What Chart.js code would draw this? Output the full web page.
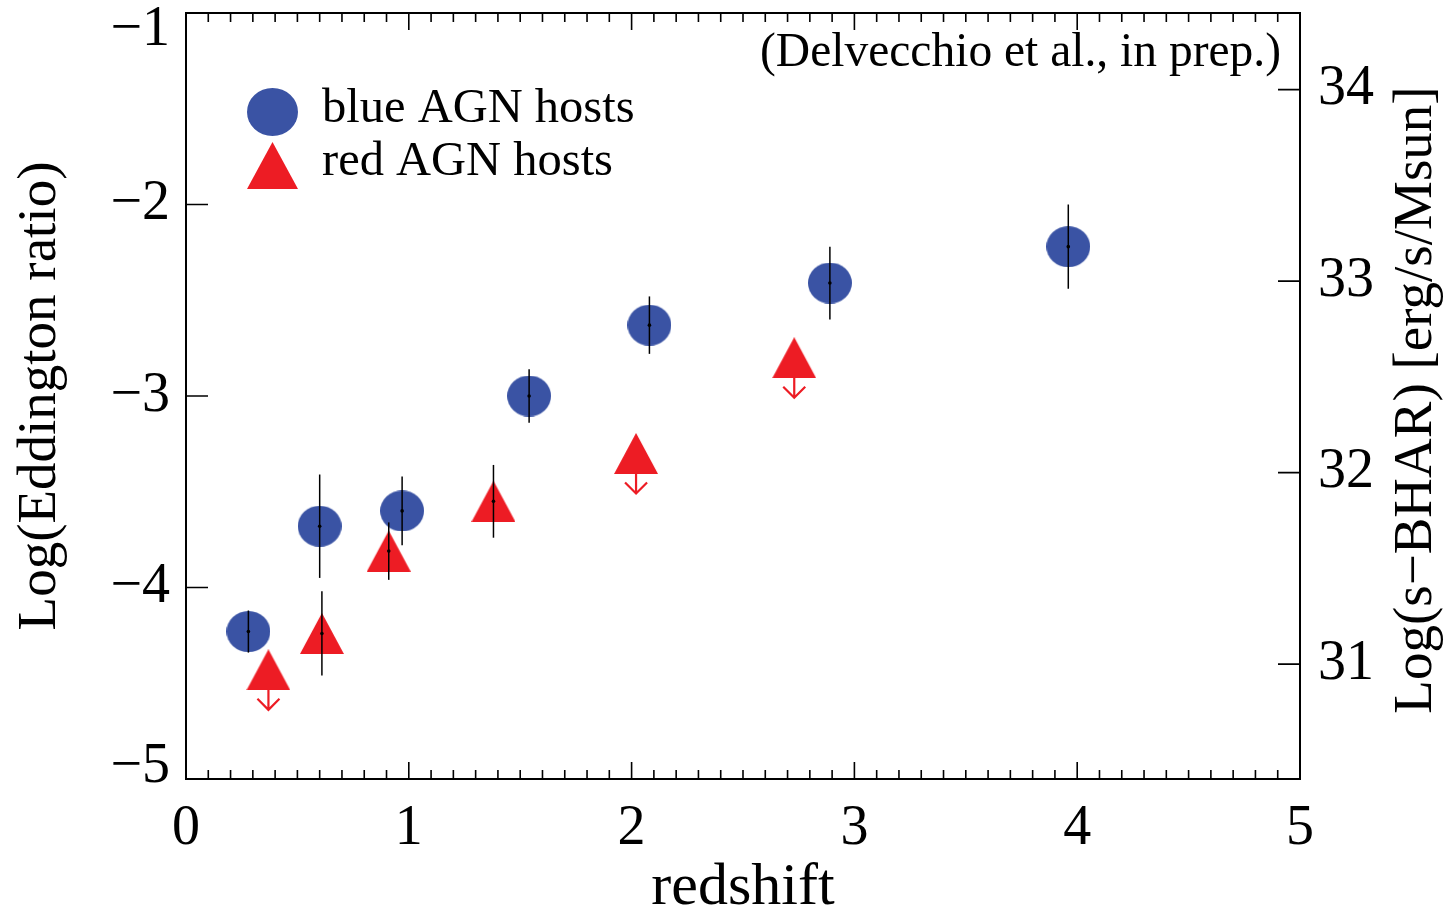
<!DOCTYPE html>
<html>
<head>
<meta charset="utf-8">
<script src="https://cdn.jsdelivr.net/npm/chart.js@4/dist/chart.umd.min.js"></script>
<style>
  html, body { margin: 0; padding: 0; background: #fff; }
  #wrap { width: 1449px; height: 915px; }
</style>
</head>
<body>
<div id="wrap"><canvas id="chart"></canvas></div>
<script>
// Datos
const blueZ = [0.28, 0.60, 0.97, 1.54, 2.08, 2.89, 3.96];
const blueLogEdd = [-4.23, -3.68, -3.60, -3.00, -2.63, -2.41, -2.22];
const blueErr = [0.11, 0.27, 0.18, 0.14, 0.15, 0.19, 0.22];

const redZ = [0.37, 0.61, 0.91, 1.38, 2.02, 2.73];
const redLogEdd = [-4.43, -4.24, -3.81, -3.55, -3.30, -2.80];
const redErr = [0, 0.22, 0.15, 0.19, 0, 0];
const redUpperLimit = [true, false, false, false, true, true];

const xTicks = [0, 1, 2, 3, 4, 5];
const leftTicks = [-5, -4, -3, -2, -1];
const rightTicks = [31, 32, 33, 34];
const sbharOffset = 35.4; // Log(s-BHAR) = Log(Edd) + offset

const BLUE = '#3a53a4', RED = '#ed1c24';
const SERIF = '"Liberation Serif", "Times New Roman", serif';

// Marcadores
function ellipseImg(w, h, color) {
  const c = document.createElement('canvas');
  c.width = w; c.height = h;
  const g = c.getContext('2d');
  g.fillStyle = color;
  g.beginPath();
  g.ellipse(w / 2, h / 2, w / 2, h / 2, 0, 0, Math.PI * 2);
  g.fill();
  return c;
}
function triangleImg(w, h, color) {
  const c = document.createElement('canvas');
  c.width = w; c.height = h;
  const g = c.getContext('2d');
  g.fillStyle = color;
  g.beginPath();
  g.moveTo(w / 2, 0);
  g.lineTo(w, h);
  g.lineTo(0, h);
  g.closePath();
  g.fill();
  return c;
}
const blueDot = ellipseImg(44, 41, BLUE);
const redTri = triangleImg(44, 41, RED);
const blueLeg = ellipseImg(51, 48, BLUE);
const redLeg = triangleImg(51, 47, RED);

const minus = v => String(v).replace('-', '\u2212');
const yMin = leftTicks[0], yMax = leftTicks[leftTicks.length - 1];

// Marco, ticks, barras de error, límites, leyenda y textos
const extras = {
  id: 'extras',
  afterDatasetsDraw(chart) {
    const { ctx, chartArea: a, scales: { x, y, y2 } } = chart;
    ctx.save();

    // barras de error
    ctx.strokeStyle = '#000';
    ctx.lineWidth = 1.5;
    const bars = (zs, vs, es) => zs.forEach((z, i) => {
      if (!es[i]) return;
      const px = x.getPixelForValue(z);
      ctx.beginPath();
      ctx.moveTo(px, y.getPixelForValue(vs[i] + es[i]));
      ctx.lineTo(px, y.getPixelForValue(vs[i] - es[i]));
      ctx.stroke();
    });
    bars(blueZ, blueLogEdd, blueErr);
    bars(redZ, redLogEdd, redErr);

    // puntos centrales
    ctx.fillStyle = '#000';
    const dots = (zs, vs, es) => zs.forEach((z, i) => {
      if (!es[i]) return;
      ctx.beginPath();
      ctx.arc(x.getPixelForValue(z), y.getPixelForValue(vs[i]), 1.8, 0, Math.PI * 2);
      ctx.fill();
    });
    dots(blueZ, blueLogEdd, blueErr);
    dots(redZ, redLogEdd, redErr);

    // flechas de límite superior
    ctx.strokeStyle = RED;
    ctx.lineWidth = 2.2;
    redZ.forEach((z, i) => {
      if (!redUpperLimit[i]) return;
      const px = x.getPixelForValue(z), py = y.getPixelForValue(redLogEdd[i]);
      ctx.beginPath();
      ctx.moveTo(px, py + 20);
      ctx.lineTo(px, py + 40);
      ctx.moveTo(px - 11, py + 29);
      ctx.lineTo(px, py + 40);
      ctx.lineTo(px + 11, py + 29);
      ctx.stroke();
    });

    // marco
    ctx.strokeStyle = '#000';
    ctx.lineWidth = 2;
    ctx.strokeRect(a.left, a.top, a.right - a.left, a.bottom - a.top);

    // ticks hacia adentro
    ctx.lineWidth = 1.6;
    ctx.beginPath();
    for (let k = 1; k < 50; k++) {
      const px = x.getPixelForValue(k / 10);
      const len = k % 10 === 0 ? 17 : 9;
      ctx.moveTo(px, a.bottom); ctx.lineTo(px, a.bottom - len);
      ctx.moveTo(px, a.top); ctx.lineTo(px, a.top + len);
    }
    leftTicks.forEach(v => {
      const py = y.getPixelForValue(v);
      ctx.moveTo(a.left, py); ctx.lineTo(a.left + 22, py);
    });
    rightTicks.forEach(v => {
      const py = y2.getPixelForValue(v);
      ctx.moveTo(a.right, py); ctx.lineTo(a.right - 22, py);
    });
    ctx.stroke();

    // etiquetas extremas del eje izquierdo, corridas hacia adentro
    ctx.fillStyle = '#000';
    ctx.font = `56px ${SERIF}`;
    ctx.textBaseline = 'middle';
    ctx.textAlign = 'right';
    ctx.fillText(minus(yMax), a.left - 16, y.getPixelForValue(yMax) + 17);
    ctx.fillText(minus(yMin), a.left - 16, y.getPixelForValue(yMin) - 12);

    // leyenda
    ctx.drawImage(blueLeg, 247, 88);
    ctx.drawImage(redLeg, 247, 142);
    ctx.font = `48.5px ${SERIF}`;
    ctx.textAlign = 'left';
    ctx.fillText('blue AGN hosts', 322, 109);
    ctx.fillText('red AGN hosts', 322, 162);

    // referencia
    ctx.font = `47.5px ${SERIF}`;
    ctx.textAlign = 'right';
    ctx.fillText('(Delvecchio et al., in prep.)', a.right - 19, 54);

    // título del eje derecho
    ctx.font = `55px ${SERIF}`;
    ctx.textAlign = 'center';
    ctx.translate(1417, (a.top + a.bottom) / 2 + 4);
    ctx.rotate(-Math.PI / 2);
    ctx.fillText('Log(s\u2212BHAR) [erg/s/Msun]', 0, 0);
    ctx.restore();
  }
};

// sin relleno extra por las etiquetas extremas
const noPadY = s => { s.paddingTop = 0; s.paddingBottom = 0; };

new Chart(document.getElementById('chart'), {
  type: 'scatter',
  data: {
    datasets: [
      {
        label: 'blue AGN hosts',
        data: blueZ.map((z, i) => ({ x: z, y: blueLogEdd[i] })),
        pointStyle: blueDot,
        yAxisID: 'y'
      },
      {
        label: 'red AGN hosts',
        data: redZ.map((z, i) => ({ x: z, y: redLogEdd[i] })),
        pointStyle: redTri,
        yAxisID: 'y'
      }
    ]
  },
  options: {
    responsive: true,
    maintainAspectRatio: false,
    animation: false,
    layout: { padding: { top: 13, left: 0, right: 0, bottom: 0 } },
    plugins: { legend: { display: false }, tooltip: { enabled: false } },
    scales: {
      x: {
        type: 'linear',
        position: 'bottom',
        min: 0, max: 5,
        afterBuildTicks: s => { s.ticks = xTicks.map(v => ({ value: v })); },
        afterFit: s => { s.height = 136; s.paddingLeft = 0; s.paddingRight = 0; },
        grid: { display: false, drawTicks: false },
        border: { display: false },
        ticks: { color: '#000', padding: 17, font: { family: SERIF, size: 56 } },
        title: {
          display: true, text: 'redshift', color: '#000',
          font: { family: SERIF, size: 60, lineHeight: 0.9 },
          padding: 0
        }
      },
      y: {
        type: 'linear',
        position: 'left',
        min: yMin, max: yMax,
        afterBuildTicks: s => { s.ticks = leftTicks.map(v => ({ value: v })); },
        afterFit: s => { s.width = 186; noPadY(s); },
        grid: { display: false, drawTicks: false },
        border: { display: false },
        ticks: {
          color: '#000', padding: 16, font: { family: SERIF, size: 56 },
          // las de los extremos se dibujan aparte
          callback: v => (v === yMin || v === yMax) ? '' : minus(v)
        },
        title: {
          display: true, text: 'Log(Eddington ratio)', color: '#000',
          font: { family: SERIF, size: 55, lineHeight: 1.2 },
          padding: { top: 8, bottom: 0 }
        }
      },
      y2: {
        type: 'linear',
        position: 'right',
        min: yMin + sbharOffset, max: yMax + sbharOffset,
        afterBuildTicks: s => { s.ticks = rightTicks.map(v => ({ value: v })); },
        afterFit: s => { s.width = 149; noPadY(s); },
        grid: { display: false, drawTicks: false },
        border: { display: false },
        ticks: { color: '#000', padding: 18, font: { family: SERIF, size: 56 } }
      }
    }
  },
  plugins: [extras]
});
</script>
</body>
</html>
